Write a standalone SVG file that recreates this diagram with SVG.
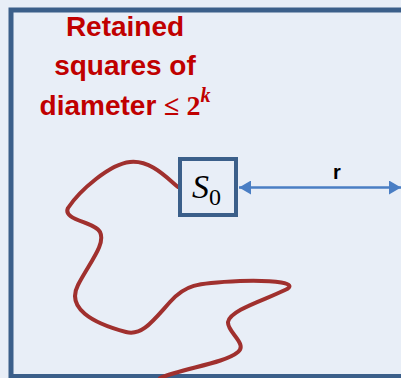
<svg xmlns="http://www.w3.org/2000/svg" width="401" height="378" viewBox="0 0 401 378">
<style>
.lbl{font-family:"Liberation Sans",Arial,sans-serif;font-weight:bold;font-size:28px;fill:#C00000;text-anchor:middle}
.math{font-family:"Liberation Serif","DejaVu Serif",serif}
</style>
<defs>
<marker id="ah" viewBox="0 0 12 14" refX="12" refY="7" markerWidth="12" markerHeight="14" markerUnits="userSpaceOnUse" orient="auto-start-reverse">
<path d="M0,0 L12,7 L0,14 Z" fill="#4A7EC4"/>
</marker>
</defs>
<rect x="0" y="0" width="401" height="378" fill="#E8EEF7"/>
<g id="frame">
<rect x="11" y="10" width="420" height="366.5" fill="#E8EEF7" stroke="#3B5F8A" stroke-width="5"/>
</g>
<g id="curve">
<path d="M178,187 C165,176 150,160 130,162 C110,164 80,190 68,208 C62,220 95,222 100,232 C106,244 90,262 78,285 C66,308 92,323 126,332 C142,336 152,322 170,302 C185,285 195,283 240,281 C275,280 300,283 285,290 C265,300 230,310 228,322 C227,332 248,344 238,352 C225,363 185,368 160,378" fill="none" stroke="#A0302E" stroke-width="4" stroke-linecap="round"/>
</g>
<g id="label">
<text class="lbl" x="125" y="36">Retained</text>
<text class="lbl" x="125" y="75">squares of</text>
<text class="lbl" x="125" y="115">diameter <tspan class="math">≤ 2</tspan><tspan class="math" font-style="italic" font-size="20" dy="-13">k</tspan></text>
</g>
<g id="connectors">
<line x1="239" y1="187.5" x2="401" y2="187.5" stroke="#4A7EC4" stroke-width="2.5" marker-start="url(#ah)" marker-end="url(#ah)"/>
<text x="337" y="179" font-family="'Liberation Sans',Arial,sans-serif" font-weight="bold" font-size="20" fill="#000" text-anchor="middle">r</text>
</g>
<g id="S0">
<rect x="180" y="159" width="56" height="56" fill="#E8EEF7" stroke="#3B5F8A" stroke-width="4"/>
<text class="math" x="192" y="198" font-size="34" font-style="italic" fill="#000">S</text>
<text class="math" x="209" y="205" font-size="24" fill="#000">0</text>
</g>
</svg>
